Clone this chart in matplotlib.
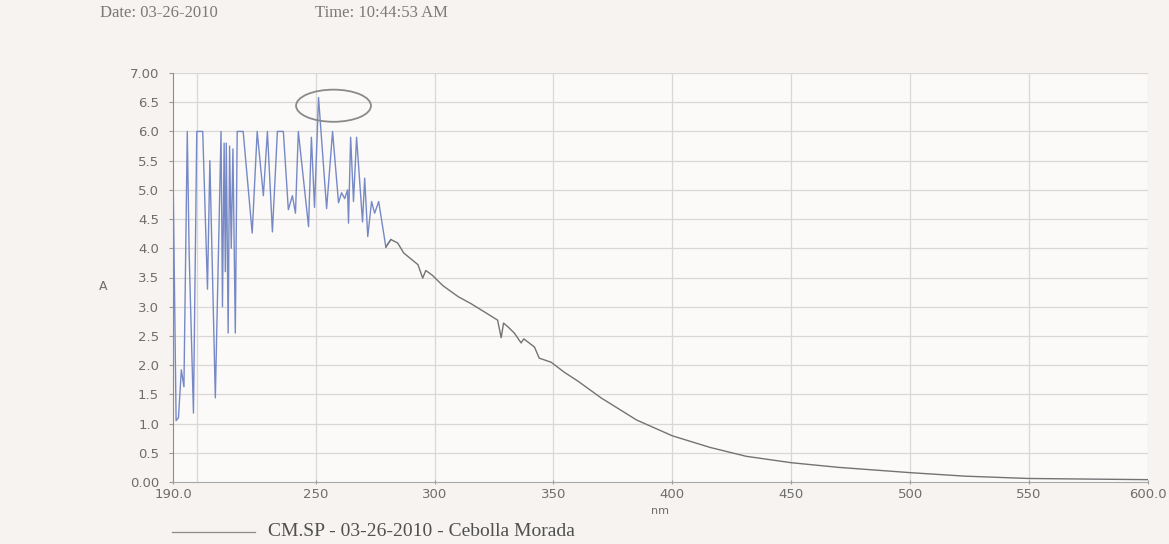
import matplotlib
matplotlib.use('Agg')
import numpy as np
import matplotlib.pyplot as plt
from matplotlib.patches import Ellipse

# Spectrum, CM.SP sample (wavelength in nm, absorbance A)
wavelength = [
    190.0, 191.3, 192.3, 193.5, 194.6, 196.0, 196.8, 198.6, 200.0, 202.5,
    204.5, 205.5, 207.8, 210.2, 210.8, 211.5, 212.0, 212.4, 213.2, 213.8,
    214.5, 215.2, 216.2, 217.0, 219.5, 223.3, 225.4, 228.0, 229.7, 231.8,
    233.9, 236.4, 238.5, 240.2, 241.5, 242.7, 247.0, 248.2, 249.5, 251.2,
    254.6, 257.1, 259.6, 260.9, 262.2, 263.4, 263.8, 264.7, 265.9, 267.2,
    269.7, 270.6, 271.9, 273.5, 274.8, 276.5, 279.5, 281.6, 284.5, 287.0,
    290.0, 293.0, 295.0, 296.3, 299.0, 303.5, 310.0, 315.0, 321.0, 326.5,
    328.0, 329.0, 331.0, 333.5, 336.4, 337.5, 342.0, 344.0, 349.0, 354.5,
    360.5, 370.0, 385.0, 400.0, 416.0, 431.0, 450.0, 470.0, 500.0, 523.0,
    550.0, 575.0, 600.0,
]
absorbance = [
    5.40, 1.05, 1.10, 1.92, 1.63, 6.00, 3.90, 1.18, 6.00, 6.00,
    3.30, 5.50, 1.44, 6.00, 3.00, 5.80, 3.60, 5.80, 2.55, 5.75,
    4.00, 5.70, 2.55, 6.00, 6.00, 4.26, 6.00, 4.90, 6.00, 4.28,
    6.00, 6.00, 4.66, 4.90, 4.60, 6.00, 4.37, 5.90, 4.70, 6.58,
    4.68, 6.00, 4.78, 4.95, 4.85, 5.00, 4.43, 5.90, 4.80, 5.90,
    4.45, 5.20, 4.20, 4.80, 4.60, 4.80, 4.02, 4.15, 4.09, 3.92,
    3.82, 3.72, 3.49, 3.62, 3.54, 3.36, 3.17, 3.06, 2.91, 2.77,
    2.47, 2.72, 2.65, 2.55, 2.38, 2.45, 2.31, 2.12, 2.05, 1.88,
    1.72, 1.44, 1.06, 0.79, 0.59, 0.44, 0.33, 0.25, 0.16, 0.10,
    0.06, 0.05, 0.04,
]

x_ticks = [190, 250, 300, 350, 400, 450, 500, 550, 600]
x_tick_labels = ['190.0', '250', '300', '350', '400', '450', '500', '550', '600.0']
y_ticks = [0.0, 0.5, 1.0, 1.5, 2.0, 2.5, 3.0, 3.5, 4.0, 4.5, 5.0, 5.5, 6.0, 6.5, 7.0]
y_tick_labels = ['0.00', '0.5', '1.0', '1.5', '2.0', '2.5', '3.0', '3.5',
                 '4.0', '4.5', '5.0', '5.5', '6.0', '6.5', '7.00']
v_grid = [200, 250, 300, 350, 400, 450, 500, 550, 600]

series_label = 'CM.SP - 03-26-2010 - Cebolla Morada'
date_text = 'Date: 03-26-2010'
time_text = 'Time: 10:44:53 AM'

PAPER = '#f6f3f0'
AXES_BG = '#fbfaf8'
GRID = '#dad8d6'
TEXT = '#6e6e6e'
BLUE = '#7689c6'
GREY = '#737376'

wl = np.array(wavelength)
ab = np.array(absorbance)

fig = plt.figure(figsize=(11.69, 5.44), dpi=100, facecolor=PAPER)
ax = fig.add_axes([173 / 1169, 1 - 482 / 544, (1148 - 173) / 1169, (482 - 73) / 544])
ax.set_facecolor(AXES_BG)

# grid
for xv in v_grid:
    ax.axvline(xv, color=GRID, lw=0.9, zorder=0)
for yv in y_ticks[1:]:
    ax.axhline(yv, color=GRID, lw=0.9, zorder=0)

# noisy UV region in blue, smooth tail in grey
m1 = wl <= 281.6
m2 = wl >= 279.5
ax.plot(wl[m1], ab[m1], color=BLUE, lw=1.0, zorder=3)
ax.plot(wl[m2], ab[m2], color=GREY, lw=1.0, zorder=3)

# circled maximum
ax.add_patch(Ellipse((257.5, 6.44), 31.5, 0.55, fill=False,
                     edgecolor='#8a8a8a', lw=1.3, zorder=4))

ax.set_xlim(190, 600)
ax.set_ylim(0, 7)
ax.set_xticks(x_ticks)
ax.set_xticklabels(x_tick_labels)
ax.set_yticks(y_ticks)
ax.set_yticklabels(y_tick_labels)
ax.tick_params(axis='both', colors='#9a9a9a', labelcolor=TEXT, labelsize=9.5,
               length=3, width=0.8)
ax.tick_params(axis='x', direction='inout', pad=3)
ax.tick_params(axis='y', direction='out', pad=7)

for side in ['top', 'right']:
    ax.spines[side].set_visible(False)
ax.spines['left'].set_color('#8c8c8c')
ax.spines['bottom'].set_color('#a8a8a8')

# axis titles
fig.text(103 / 1169, 1 - 287 / 544, 'A', fontsize=9, color=TEXT,
         ha='center', va='center')
fig.text(660 / 1169, 1 - 511 / 544, 'nm', fontsize=8, color=TEXT,
         ha='center', va='center')

# header
serif = 'Liberation Serif'
fig.text(100 / 1169, 1 - 13 / 544, date_text, fontsize=12, color='#7a7a7a',
         family=serif, ha='left', va='center')
fig.text(315 / 1169, 1 - 13 / 544, time_text, fontsize=12, color='#7a7a7a',
         family=serif, ha='left', va='center')

# legend entry
fig.lines.append(plt.Line2D([172 / 1169, 255 / 1169], [1 - 532 / 544, 1 - 532 / 544],
                            transform=fig.transFigure, color='#8a8a8a', lw=0.9))
fig.text(268 / 1169, 1 - 532 / 544, series_label, fontsize=14, color='#505050',
         family=serif, ha='left', va='center')

fig.savefig('out.png', dpi=100, facecolor=PAPER)
